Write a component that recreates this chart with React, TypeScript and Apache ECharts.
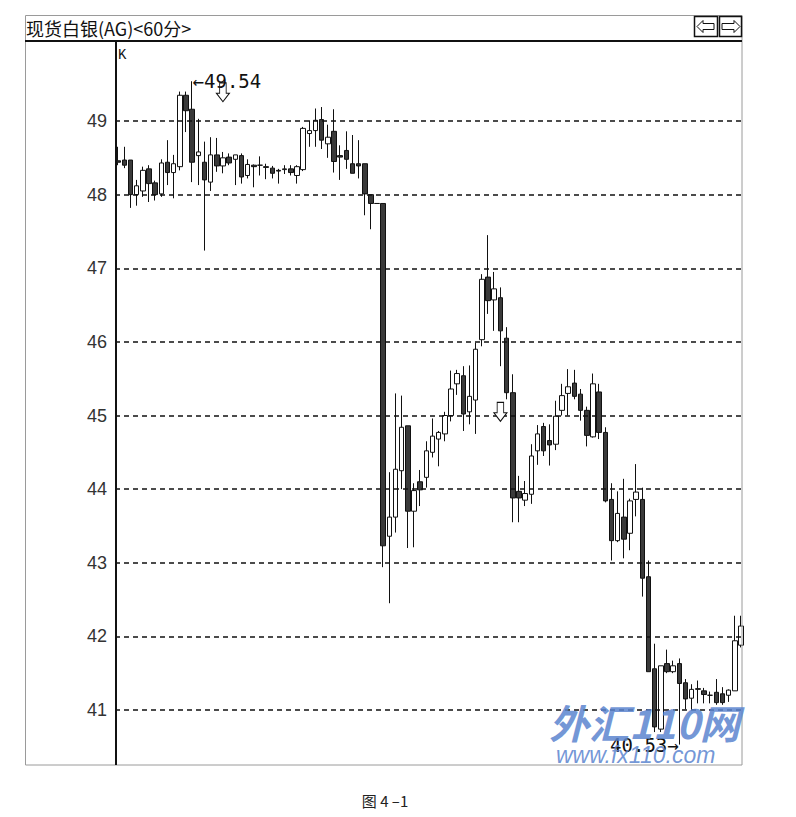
import React, { useEffect, useRef } from "react";
import * as echarts from "echarts";

// Hourly candles (60分) for 现货白银 (AG): open, close, low, high
const opens = [
  48.46, 48.47, 48.47, 48.0, 48.05, 48.35, 48.16, 48.01, 48.44, 48.3,
  48.38, 49.35, 49.16, 48.53, 48.44, 48.17, 48.54, 48.39, 48.51, 48.48,
  48.53, 48.26, 48.4, 48.4, 48.38, 48.36, 48.33, 48.34, 48.35, 48.26,
  48.34, 48.83, 48.87, 49.02, 48.69, 48.86, 48.53, 48.6, 48.42, 48.42,
  48.42, 48.0, 47.88, 47.88, 43.36, 43.62, 44.25, 44.86, 43.7, 44.1,
  44.16, 44.5, 44.68, 44.75, 45.0, 45.43, 45.54, 45.05, 45.21, 46.03,
  46.88, 46.57, 46.6, 46.05, 45.31, 43.97, 43.85, 43.93, 44.52, 44.85,
  44.66, 44.61, 45.07, 45.3, 45.44, 45.29, 45.07, 44.71, 45.32, 44.77,
  43.86, 43.3, 43.62, 43.4, 43.86, 43.86, 42.81, 41.56, 40.74, 41.63,
  41.52, 41.63, 41.37, 41.16, 41.28, 41.26, 41.2, 41.24, 41.22, 41.2,
  41.26, 41.88,
];
const closes = [
  48.44, 48.4, 48.0, 48.12, 48.33, 48.15, 48.0, 48.43, 48.3, 48.42,
  49.35, 49.14, 48.44, 48.58, 48.2, 48.54, 48.39, 48.5, 48.43, 48.54,
  48.24, 48.41, 48.38, 48.4, 48.37, 48.29, 48.32, 48.35, 48.3, 48.38,
  48.9, 48.87, 49.01, 48.74, 48.78, 48.45, 48.51, 48.48, 48.29, 48.39,
  48.01, 47.88, 47.88, 43.23, 43.62, 44.27, 44.84, 43.7, 43.98, 43.99,
  44.52, 44.72, 44.77, 45.0, 45.36, 45.57, 45.02, 45.26, 45.9, 46.85,
  46.56, 46.72, 46.15, 45.31, 43.88, 43.88, 43.94, 44.45, 44.75, 44.52,
  44.6, 44.99, 45.27, 45.39, 45.26, 45.07, 44.73, 45.43, 44.77, 43.84,
  43.3, 43.67, 43.32, 43.84, 43.96, 42.79, 41.52, 40.77, 41.6, 41.52,
  41.6, 41.36, 41.15, 41.28, 41.29, 41.21, 41.2, 41.1, 41.1, 41.27,
  41.94, 42.14,
];
const lows = [
  48.4, 48.36, 47.82, 47.85, 47.97, 47.9, 47.92, 47.97, 48.13, 47.95,
  48.33, 48.85, 48.17, 48.13, 47.24, 48.05, 48.31, 48.29, 48.4, 48.13,
  48.15, 48.22, 48.1, 48.26, 48.21, 48.22, 48.15, 48.28, 48.26, 48.15,
  48.32, 48.65, 48.65, 48.62, 48.5, 48.3, 48.2, 48.35, 48.29, 48.22,
  47.72, 47.53, 47.88, 42.94, 42.45, 43.41, 44.0, 43.2, 43.21, 43.77,
  44.02, 44.43, 44.31, 44.65, 44.92, 45.28, 44.79, 44.88, 44.75, 45.94,
  46.38, 46.15, 45.67, 45.22, 43.55, 43.55, 43.77, 43.8, 44.33, 44.45,
  44.32, 44.53, 45.0, 45.0, 45.22, 44.93, 44.58, 44.7, 44.68, 43.82,
  43.03, 43.28, 43.06, 43.17, 43.63, 42.54, 41.52, 40.7, 40.7, 41.5,
  41.5, 40.53, 41.01, 41.01, 41.09, 41.09, 41.09, 41.07, 41.07, 41.11,
  41.26, 41.85,
];
const highs = [
  48.65, 48.65, 48.47, 48.2, 48.38, 48.4, 48.19, 48.48, 48.74, 48.54,
  49.4, 49.4, 49.54, 49.03, 48.72, 48.78, 48.77, 48.58, 48.56, 48.54,
  48.56, 48.48, 48.41, 48.52, 48.42, 48.39, 48.35, 48.4, 48.4, 48.4,
  48.92, 49.01, 49.17, 49.19, 48.95, 49.16, 48.67, 48.86, 48.81, 48.74,
  48.42, 48.0, 47.88, 47.88, 44.23, 45.3, 45.27, 44.86, 44.08, 44.26,
  44.65, 44.96, 44.79, 45.05, 45.61, 45.62, 45.67, 45.68, 45.99, 46.92,
  47.45, 46.95, 46.74, 46.2, 45.56, 44.18, 44.11, 44.61, 44.87, 44.9,
  44.88, 45.2, 45.43, 45.63, 45.62, 45.36, 45.12, 45.57, 45.43, 44.84,
  44.08, 43.97, 44.14, 43.87, 44.34, 44.02, 43.03, 41.9, 41.6, 41.82,
  41.67, 41.7, 41.42, 41.35, 41.4, 41.3, 41.25, 41.42, 41.31, 41.28,
  42.28, 42.28,
];
const categories = opens.map((_, i) => String(i + 1));
const gridValues = [41, 42, 43, 44, 45, 46, 47, 48, 49];
// hollow "sell" arrows drawn on the chart
const signalIdx = [17, 62];
const signalValues = [49.39, 45.05];

const arrowPath = "path://M3,0 L9,0 L9,11 L12,11 L6,20 L0,11 L3,11 Z";

export default function App() {
  const ref = useRef<HTMLDivElement>(null);

  useEffect(() => {
    if (!ref.current) return;
    const chart = echarts.init(ref.current, null, { renderer: "svg" });

    let hiIdx = 0;
    let loIdx = 0;
    highs.forEach((h, i) => {
      if (h > highs[hiIdx]) hiIdx = i;
    });
    lows.forEach((l, i) => {
      if (l < lows[loIdx]) loIdx = i;
    });

    const data = categories.map((_, i) => [opens[i], closes[i], lows[i], highs[i]]);

    const monoLabel = {
      show: true,
      color: "#111",
      fontFamily: "DejaVu Sans Mono",
      fontSize: 19,
      distance: 0,
    };

    const option: any = {
      animation: false,
      backgroundColor: "#fff",
      grid: { left: 115, right: 52, top: 47.4, bottom: 33.4 },
      xAxis: {
        type: "category",
        data: categories,
        boundaryGap: true,
        show: false,
      },
      yAxis: {
        type: "value",
        min: 40,
        max: 50,
        interval: 1,
        axisLine: { show: false },
        axisTick: { show: false },
        splitLine: { show: false },
        axisLabel: {
          color: "#333",
          fontSize: 18,
          fontFamily: "Liberation Sans",
          margin: 8,
          formatter: (v: number) => (gridValues.includes(v) ? String(v) : ""),
        },
      },
      series: [
        {
          type: "candlestick",
          data,
          barWidth: 5,
          itemStyle: {
            color: "#ffffff",
            color0: "#3a3a3a",
            borderColor: "#111",
            borderColor0: "#111",
            borderColorDoji: "#111",
            borderWidth: 1,
          },
          markLine: {
            silent: true,
            symbol: ["none", "none"],
            label: { show: false },
            lineStyle: { color: "#111", type: [5, 4], width: 1.5 },
            data: gridValues.map((v) => ({ yAxis: v })),
          },
          markPoint: {
            silent: true,
            data: [
              ...signalIdx.map((idx, k) => ({
                coord: [categories[idx], signalValues[k]],
                symbol: arrowPath,
                symbolSize: [13, 19],
                itemStyle: { color: "#fff", borderColor: "#111", borderWidth: 1 },
                label: { show: false },
              })),
              {
                coord: [categories[hiIdx], highs[hiIdx]],
                symbol: "circle",
                symbolSize: 1,
                itemStyle: { color: "rgba(0,0,0,0)" },
                label: {
                  ...monoLabel,
                  position: "right",
                  formatter: "←" + highs[hiIdx].toFixed(2),
                },
              },
              {
                coord: [categories[loIdx], lows[loIdx]],
                symbol: "circle",
                symbolSize: 1,
                itemStyle: { color: "rgba(0,0,0,0)" },
                label: {
                  ...monoLabel,
                  position: "left",
                  formatter: lows[loIdx].toFixed(2) + "→",
                },
              },
            ],
          },
        },
      ],
      graphic: [
        {
          type: "rect",
          z: 10,
          silent: true,
          shape: { x: 25.5, y: 15.5, width: 716.5, height: 749.5 },
          style: { fill: "none", stroke: "#9a9a9a", lineWidth: 1 },
        },
        {
          type: "line",
          z: 10,
          silent: true,
          shape: { x1: 25, y1: 41, x2: 742, y2: 41 },
          style: { stroke: "#111", lineWidth: 2 },
        },
        {
          type: "line",
          z: 10,
          silent: true,
          shape: { x1: 116, y1: 41, x2: 116, y2: 765 },
          style: { stroke: "#111", lineWidth: 2 },
        },
        {
          type: "text",
          z: 10,
          x: 26,
          y: 28,
          style: {
            text: "现货白银(AG)<60分>",
            fill: "#111",
            fontSize: 18,
            fontFamily: "Noto Sans CJK SC",
            verticalAlign: "middle",
          },
        },
        {
          type: "text",
          z: 10,
          x: 118,
          y: 48,
          style: {
            text: "K",
            fill: "#111",
            fontSize: 14,
            fontFamily: "Liberation Mono",
          },
        },
        {
          type: "rect",
          z: 10,
          shape: { x: 694.5, y: 16.5, width: 23, height: 20 },
          style: { fill: "#fff", stroke: "#111", lineWidth: 1.5 },
        },
        {
          type: "rect",
          z: 10,
          shape: { x: 719.5, y: 16.5, width: 22, height: 20 },
          style: { fill: "#fff", stroke: "#111", lineWidth: 1.5 },
        },
        {
          type: "polygon",
          z: 11,
          shape: {
            points: [
              [697, 26.5], [703, 20.5], [703, 23.5], [714, 23.5],
              [714, 29.5], [703, 29.5], [703, 32.5],
            ],
          },
          style: { fill: "#fff", stroke: "#111", lineWidth: 1 },
        },
        {
          type: "polygon",
          z: 11,
          shape: {
            points: [
              [740, 26.5], [734, 20.5], [734, 23.5], [722, 23.5],
              [722, 29.5], [734, 29.5], [734, 32.5],
            ],
          },
          style: { fill: "#fff", stroke: "#111", lineWidth: 1 },
        },
        {
          type: "text",
          z: 100,
          x: 549,
          y: 722,
          style: {
            text: "外汇110网",
            fill: "#5b84cf",
            opacity: 0.85,
            fontSize: 40,
            fontWeight: "bold",
            fontStyle: "italic",
            fontFamily: "Noto Sans CJK SC",
            verticalAlign: "middle",
          },
        },
        {
          type: "text",
          z: 100,
          x: 556,
          y: 755,
          style: {
            text: "www.fx110.com",
            fill: "#5b84cf",
            opacity: 0.85,
            fontSize: 23,
            fontStyle: "italic",
            fontFamily: "Liberation Sans",
            verticalAlign: "middle",
          },
        },
        {
          type: "text",
          z: 10,
          x: 385,
          y: 800,
          style: {
            text: "图 4 –1",
            fill: "#222",
            fontSize: 15,
            fontFamily: "Noto Sans CJK SC",
            align: "center",
            verticalAlign: "middle",
          },
        },
      ],
    };

    chart.setOption(option);
    return () => chart.dispose();
  }, []);

  return (
    <div
      ref={ref}
      style={{
        position: "fixed",
        left: 0,
        top: 0,
        width: 796,
        height: 817,
        background: "#fff",
      }}
    />
  );
}
